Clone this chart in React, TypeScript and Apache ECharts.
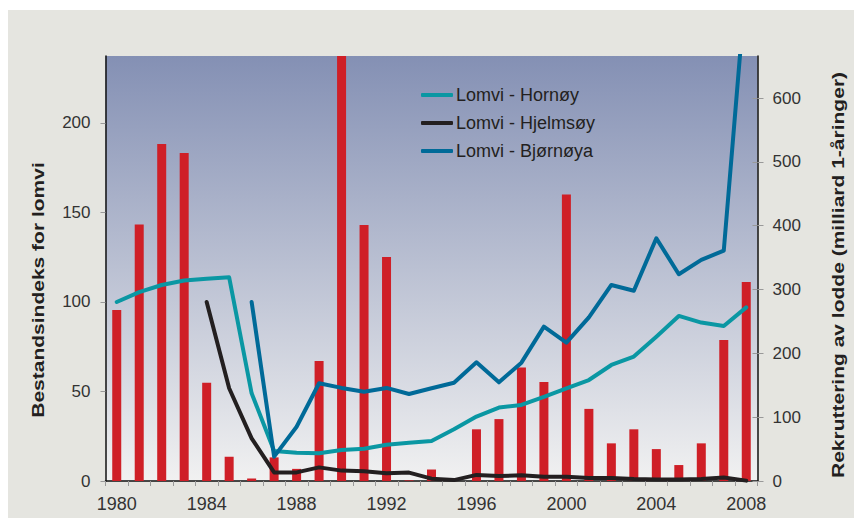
import React, { useEffect, useRef } from "react";
import * as echarts from "echarts";

const years = [
  "1980", "1981", "1982", "1983", "1984", "1985", "1986", "1987", "1988", "1989",
  "1990", "1991", "1992", "1993", "1994", "1995", "1996", "1997", "1998", "1999",
  "2000", "2001", "2002", "2003", "2004", "2005", "2006", "2007", "2008",
];

// Capelin recruitment (billion 1-year-olds), right axis
const capelin = [
  268, 402, 528, 514, 154, 38, 4, 37, 19, 188,
  700, 401, 351, 1, 18, 2, 81, 97, 178, 155,
  449, 113, 59, 81, 50, 25, 59, 221, 312,
];

// Guillemot population index, left axis
const hornoy = [
  100, 105.5, 109.5, 112, 113, 113.8, 49, 16.8, 15.8, 15.5,
  17.3, 18, 20.3, 21.4, 22.3, 28.9, 36, 41, 42.5, 47,
  51.8, 56.4, 64.8, 69.5, 80.6, 92.2, 88.5, 86.6, 97,
];
const hjelmsoy = [
  null, null, null, null, 100, 51.8, 23.8, 4.8, 4.8, 7.6,
  5.8, 5.4, 4.3, 4.7, 1.3, 0.5, 3.4, 2.8, 3.2, 2.4,
  2.4, 1.7, 1.7, 1.1, 0.9, 0.9, 1.1, 1.9, 0.2,
];
const bjornoya = [
  null, null, null, null, null, null, 100, 13.6, 30.3, 54.6,
  52, 49.9, 52, 48.6, 51.8, 54.9, 66.3, 55.1, 66.1, 86.2,
  77.3, 91.4, 109.5, 106.3, 135.6, 115.5, 123.5, 128.7, 280,
];

const leftTicks = [0, 50, 100, 150, 200];
const rightTicks = [0, 100, 200, 300, 400, 500, 600];

const FONT = '"Liberation Sans", Arial, Helvetica, sans-serif';

export default function App() {
  const ref = useRef<HTMLDivElement>(null);

  useEffect(() => {
    const chart = echarts.init(ref.current!, null, { renderer: "svg" });
    const lineCommon = {
      type: "line",
      yAxisIndex: 0,
      showSymbol: false,
      symbol: "none",
      connectNulls: false,
      clip: true,
    };
    chart.setOption({
      animation: false,
      backgroundColor: "transparent",
      textStyle: { fontFamily: FONT },
      grid: {
        left: 105.5,
        right: 96.5,
        top: 56,
        bottom: 37,
        show: true,
        borderWidth: 0,
        backgroundColor: {
          type: "linear",
          x: 0,
          y: 0,
          x2: 0,
          y2: 1,
          colorStops: [
            { offset: 0, color: "#8490b4" },
            { offset: 1, color: "#f1f1f1" },
          ],
        },
      },
      legend: {
        show: true,
        orient: "vertical",
        left: 421,
        top: 85,
        padding: 0,
        itemWidth: 32,
        itemHeight: 4,
        itemGap: 8,
        icon: "roundRect",
        data: ["Lomvi - Hornøy", "Lomvi - Hjelmsøy", "Lomvi - Bjørnøya"],
        textStyle: { fontSize: 18, lineHeight: 20, color: "#231f20", fontFamily: FONT, padding: [0, 0, 0, -2] },
      },
      xAxis: {
        type: "category",
        data: years,
        boundaryGap: true,
        axisLine: { show: true, lineStyle: { color: "#111", width: 1.5 } },
        axisTick: { show: true, interval: 0, length: 5, lineStyle: { color: "#999", width: 1 } },
        axisLabel: { interval: 3, fontSize: 18, color: "#333", margin: 14, fontFamily: FONT },
        splitLine: { show: false },
      },
      yAxis: [
        {
          type: "value",
          position: "left",
          min: 0,
          max: 237.4,
          axisLine: { show: true, lineStyle: { color: "#111", width: 1.5 } },
          axisTick: { show: true, length: 5, lineStyle: { color: "#999" }, customValues: leftTicks },
          axisLabel: { fontSize: 17, color: "#333", margin: 15, fontFamily: FONT, customValues: leftTicks },
          splitLine: { show: false },
        },
        {
          type: "value",
          position: "right",
          min: 0,
          max: 666,
          axisLine: { show: true, lineStyle: { color: "#111", width: 1.5 } },
          axisTick: { show: true, length: 6, lineStyle: { color: "#999" }, customValues: rightTicks },
          axisLabel: { fontSize: 17, color: "#333", margin: 15, fontFamily: FONT, customValues: rightTicks },
          splitLine: { show: false },
        },
        {
          type: "value",
          position: "right",
          min: 0,
          max: 666,
          axisLine: { show: false },
          axisTick: { show: true, inside: true, length: 5, lineStyle: { color: "#999" }, customValues: rightTicks },
          axisLabel: { show: false },
          splitLine: { show: false },
        },
      ],
      series: [
        {
          name: "Lodde",
          type: "bar",
          yAxisIndex: 1,
          data: capelin,
          barWidth: 9,
          clip: true,
          itemStyle: { color: "#cf1f27" },
          z: 1,
        },
        {
          ...lineCommon,
          name: "Lomvi - Hornøy",
          data: hornoy,
          color: "#0a97a3",
          itemStyle: { color: "#0a97a3" },
          lineStyle: { color: "#0a97a3", width: 4, cap: "round", join: "round" },
          z: 3,
        },
        {
          ...lineCommon,
          name: "Lomvi - Hjelmsøy",
          data: hjelmsoy,
          color: "#231f20",
          itemStyle: { color: "#231f20" },
          lineStyle: { color: "#231f20", width: 4, cap: "round", join: "round" },
          z: 4,
        },
        {
          ...lineCommon,
          name: "Lomvi - Bjørnøya",
          data: bjornoya,
          color: "#006a98",
          itemStyle: { color: "#006a98" },
          lineStyle: { color: "#006a98", width: 4, cap: "round", join: "round" },
          z: 5,
        },
      ],
      graphic: [
        {
          type: "text",
          x: 38,
          y: 290,
          rotation: Math.PI / 2,
          scaleX: 1.33,
          style: {
            text: "Bestandsindeks for lomvi",
            fontSize: 15.8,
            fontWeight: "bold",
            fontFamily: FONT,
            fill: "#231f20",
            align: "center",
            verticalAlign: "middle",
          },
        },
        {
          type: "text",
          x: 838,
          y: 275,
          rotation: Math.PI / 2,
          scaleX: 1.33,
          style: {
            text: "Rekruttering av lodde (milliard 1-åringer)",
            fontSize: 15.8,
            fontWeight: "bold",
            fontFamily: FONT,
            fill: "#231f20",
            align: "center",
            verticalAlign: "middle",
          },
        },
      ],
    });
    return () => chart.dispose();
  }, []);

  return (
    <div style={{ position: "fixed", left: 0, top: 0, width: 854, height: 518, background: "#ffffff" }}>
      <div style={{ position: "absolute", left: 8, top: 10, right: 0, bottom: 0, background: "#e5e5e0" }} />
      <div ref={ref} style={{ position: "absolute", left: 0, top: 0, width: 854, height: 518 }} />
    </div>
  );
}
